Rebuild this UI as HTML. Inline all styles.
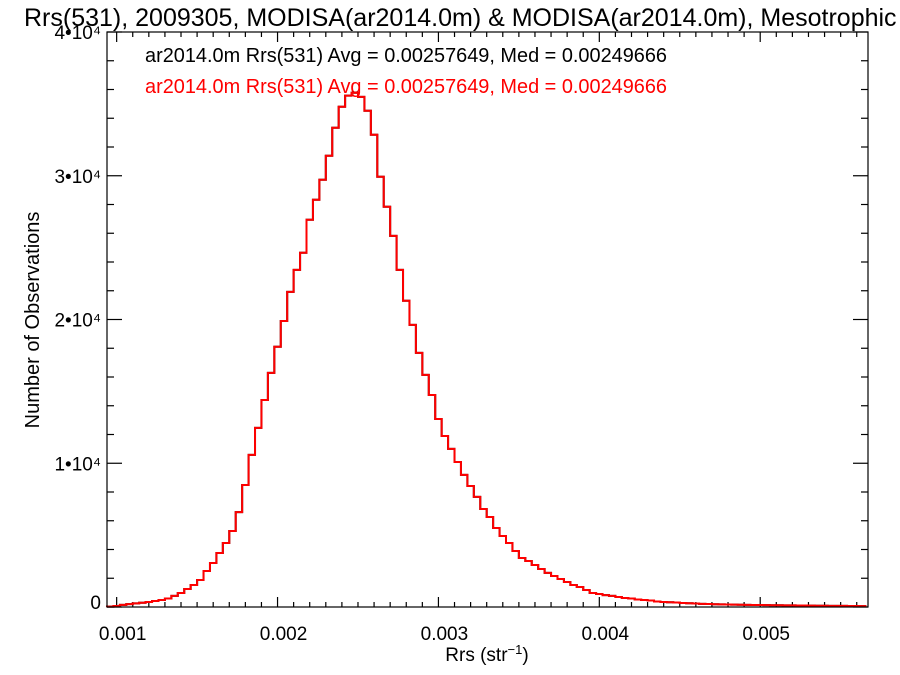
<!DOCTYPE html>
<html><head><meta charset="utf-8"><style>
html,body{margin:0;padding:0;background:#fff;overflow:hidden;}
svg{display:block;font-family:"Liberation Sans",Arial,sans-serif;}
</style></head><body>
<svg id="chart" width="900" height="675" viewBox="0 0 900 675">
<text x="24" y="26" font-size="25" fill="#000">Rrs(531), 2009305, MODISA(ar2014.0m) &amp; MODISA(ar2014.0m), Mesotrophic</text>
<text x="145" y="62" font-size="20" textLength="522" lengthAdjust="spacingAndGlyphs" fill="#000">ar2014.0m Rrs(531) Avg = 0.00257649, Med = 0.00249666</text>
<text x="145" y="93" font-size="20" textLength="522" lengthAdjust="spacingAndGlyphs" fill="#ff0000">ar2014.0m Rrs(531) Avg = 0.00257649, Med = 0.00249666</text>
<g id="axes"></g>
<path id="hist-black" fill="none" stroke="#000" stroke-width="2"></path>
<path id="hist-red" fill="none" stroke="#ff0000" stroke-width="2"></path>
<rect x="107" y="32" width="761" height="575" fill="none" stroke="#000" stroke-width="1.2"></rect>
<text x="487" y="661" font-size="19" text-anchor="middle">Rrs (str<tspan font-size="13" dy="-7">−1</tspan><tspan dy="7">)</tspan></text>
<text transform="translate(39,320) rotate(-90)" font-size="20" text-anchor="middle">Number of Observations</text>
</svg>
<script>
const binStart = 0.00094;
const binWidth = 0.00004;
const counts = [30,70,150,200,250,300,350,420,490,590,770,975,1250,1530,1880,2500,3060,3760,4450,5290,6600,8490,10580,12460,14400,16290,18100,19900,21920,23450,24640,26940,28330,29720,31390,33340,34800,35570,35770,35490,34520,32850,29930,27840,25820,23450,21300,19630,17680,16150,14750,13080,11900,11000,10090,9190,8420,7660,6820,6260,5500,4940,4450,3900,3410,3200,2920,2640,2370,2160,1950,1740,1530,1390,1180,970,900,830,770,700,630,590,520,490,450,380,350,330,310,280,260,240,220,210,195,180,170,165,160,150,140,135,130,125,120,115,110,105,100,95,90,85,80,78,75,70,68,65];
const xTicks = [0.001,0.002,0.003,0.004,0.005];
const xTickLabels = ["0.001","0.002","0.003","0.004","0.005"];
const yTicks = [0,10000,20000,30000,40000];
const yTickLabels = ["0","1•10⁴","2•10⁴","3•10⁴","4•10⁴"];

const X0=107,X1=868,Y0=607,Y1=32;
const xmin=0.00094,xmax=0.00567,ymin=0,ymax=40000;
function xs(v){return X0+(v-xmin)/(xmax-xmin)*(X1-X0);}
function ys(v){return Y0-(v-ymin)/(ymax-ymin)*(Y0-Y1);}
const NS="http://www.w3.org/2000/svg";
const axes=document.getElementById('axes');
function line(x1,y1,x2,y2,name){
  const l=document.createElementNS(NS,'line');
  l.setAttribute('x1',x1);l.setAttribute('y1',y1);l.setAttribute('x2',x2);l.setAttribute('y2',y2);
  l.setAttribute('stroke','#000');l.setAttribute('stroke-width','1.2');
  
  
  axes.appendChild(l);
}
function text(x,y,s,anchor,name){
  const t=document.createElementNS(NS,'text');
  t.setAttribute('x',x);t.setAttribute('y',y);t.setAttribute('font-size','19');t.setAttribute('text-anchor',anchor);
  t.textContent=s;
  
  
  axes.appendChild(t);
}
for(let k=10;k<=56;k++){
  const v=k*0.0001; const x=xs(v); if(x<X0||x>X1)continue;
  const major=(k%10===0); const len=major?10:5;
  line(x,Y0,x,Y0-len,'x-tick');
  line(x,Y1,x,Y1+len,'x-tick-top');
}
xTicks.forEach((v,i)=>text(xs(v)+6,640,xTickLabels[i],'middle','x-tick-label'));
for(let v=0;v<=40000;v+=2000){
  const y=ys(v); const major=(v%10000===0); const len=major?15:7;
  line(X0,y,X0+len,y,'y-tick');
  line(X1,y,X1-len,y,'y-tick-right');
}
yTicks.forEach((v,i)=>text(101,ys(v)+(v===0?2:7),yTickLabels[i],'end','y-tick-label'));
let d='M'+xs(binStart)+','+ys(0);
counts.forEach((c,i)=>{
  const xa=xs(binStart+i*binWidth), xb=xs(binStart+(i+1)*binWidth);
  d+=' L'+xa.toFixed(2)+','+ys(c).toFixed(2)+' L'+xb.toFixed(2)+','+ys(c).toFixed(2);
});
document.getElementById('hist-black').setAttribute('d',d);
document.getElementById('hist-red').setAttribute('d',d);
</script>
</body></html>
